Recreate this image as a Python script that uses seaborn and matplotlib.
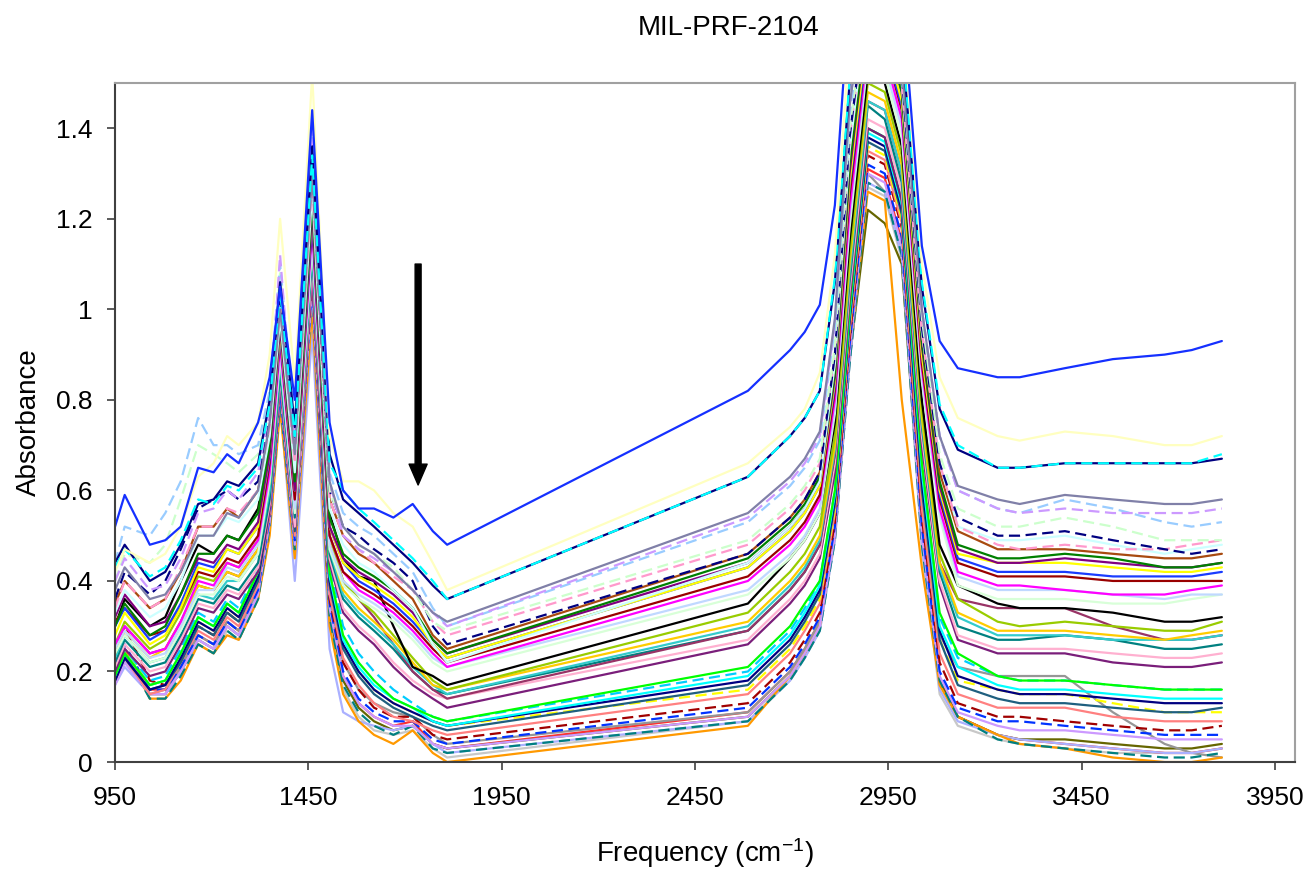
import matplotlib
matplotlib.use("Agg")
import matplotlib.pyplot as plt
import numpy as np
import pandas as pd
import seaborn as sns

# frequency grid (cm-1) shared by all spectra
freq = [950, 975, 1040, 1080, 1120, 1165, 1205, 1240, 1270, 1320, 1350, 1377, 1415, 1460,
        1505, 1540, 1580, 1620, 1670, 1720, 1772, 1809,
        2587, 2696, 2734, 2773, 2812, 2850, 2897, 2941, 2985, 3037, 3083, 3130, 3233, 3290,
        3407, 3531, 3665, 3735, 3813]

# absorbance x 100
blue = [52,59,48,49,52,65,64,68,66,75,85,105,80,144,75,60,56,56,54,57,51,48, 82,91,95,101,123,170,190,185,170,114,93,87,85,85,87,89,90,91,93]
lt_yellow = [42,47,44,46,52,63,66,72,70,75,90,120,84,152,72,62,62,60,55,52,44,38, 66,74,78,86,112,160,185,180,168,110,85,76,72,71,73,72,70,70,72]
navy = [44,48,40,42,48,57,58,62,61,66,80,106,74,136,68,58,55,52,48,44,39,36, 63,72,76,82,106,150,175,172,160,105,78,69,65,65,66,66,66,66,67]
cyan_d = [43,47,41,43,49,58,57,61,60,65,79,104,72,134,66,60,56,53,49,45,40,36, 63,72,76,82,107,151,176,173,161,106,79,70,65,65,66,66,66,66,68]
slate = [38,43,36,37,42,50,50,55,54,60,75,100,68,130,62,52,48,46,42,38,33,31, 55,63,67,73,98,145,175,170,155,100,72,61,58,57,59,58,57,57,58]
lavender_d = [40,45,38,39,45,55,56,60,58,64,78,112,70,140,62,50,47,45,42,38,33,30, 54,62,66,72,97,145,175,172,158,100,72,60,56,55,56,55,55,55,56]
ltblue_d = [44,52,50,55,62,76,70,70,68,70,82,110,74,142,64,55,52,50,46,42,34,30, 53,61,65,71,96,143,172,170,156,100,72,60,56,55,58,56,53,52,53]
ltgreen_d = [40,46,44,48,58,70,68,66,64,68,80,108,72,138,60,52,48,46,43,38,31,29, 49,57,61,67,92,140,170,168,154,98,68,56,52,52,54,52,49,49,49]
navy_d = [36,42,37,40,47,56,58,60,58,62,76,102,70,132,60,52,50,47,44,40,30,26, 46,54,58,64,90,138,170,168,152,96,66,54,50,50,51,49,47,46,47]
pink_d = [34,40,34,36,43,52,52,56,55,60,74,100,66,128,58,50,47,44,41,38,31,28, 48,56,60,66,90,138,168,166,150,95,66,52,48,47,48,47,47,48,49]
lt_cyan = [33,38,32,34,40,50,50,54,53,58,72,98,64,126,56,48,44,42,38,34,26,22, 44,52,56,62,88,135,168,165,150,95,66,52,49,49,50,48,46,47,48]
brown = [35,40,34,36,42,52,52,56,54,60,74,100,66,128,58,50,46,44,40,36,28,25, 46,54,58,64,88,135,168,165,150,95,64,51,47,47,47,46,45,45,46]
green = [30,35,28,30,37,46,46,50,49,55,70,98,62,124,54,46,43,41,38,34,27,24, 45,53,57,63,86,132,165,162,148,93,62,48,45,45,46,45,43,43,44]
purple = [32,37,30,31,37,45,44,48,47,53,68,96,60,122,52,45,42,40,37,33,27,24, 44,52,56,62,85,130,165,162,148,92,61,47,44,44,45,44,43,43,44]
yellow = [28,33,26,28,34,43,42,47,46,52,68,95,60,122,52,44,41,39,36,32,26,23, 43,51,55,61,84,128,162,160,146,90,60,46,44,44,44,43,42,42,43]
royal = [30,34,27,29,35,44,43,47,46,52,67,94,60,120,52,44,40,38,35,31,26,23, 43,51,55,61,83,127,160,158,145,90,59,45,42,42,42,41,41,41,42]
dark_red = [31,34,28,29,34,42,41,45,44,50,66,94,58,120,50,42,39,37,34,30,25,22, 41,49,53,59,82,125,160,158,144,88,58,44,41,41,41,40,40,40,40]
magenta = [26,30,24,25,31,40,39,44,43,49,64,92,58,118,50,42,38,36,33,29,24,21, 40,48,52,58,80,122,158,156,142,87,56,42,39,39,38,37,37,38,39]
pale_blue = [25,29,23,24,30,38,38,43,42,48,63,90,56,116,48,40,37,35,32,28,23,21, 38,46,50,56,78,120,156,154,140,85,55,41,38,38,38,37,36,37,37]
lt_green = [24,28,22,23,29,37,37,41,40,46,62,90,55,115,47,39,36,34,31,27,22,20, 37,45,49,55,77,118,155,152,138,84,54,39,36,36,36,35,35,36,37]
black = [30,36,30,32,40,48,46,50,49,56,70,97,62,125,55,45,41,40,30,21,19,17, 35,45,49,55,75,115,152,150,136,80,48,39,35,34,34,33,31,31,32]
y_green = [26,31,25,27,33,41,40,44,43,49,64,92,58,118,50,40,36,33,28,23,18,16, 33,42,46,52,72,112,150,148,134,78,46,36,31,30,31,30,29,29,31]
gold = [24,29,23,25,31,39,38,42,41,47,62,90,56,116,48,38,34,31,27,22,17,16, 31,40,44,50,70,110,148,146,132,76,44,33,29,29,29,28,27,28,29]
aqua = [23,28,22,23,29,37,36,40,40,46,60,88,55,114,47,37,33,30,26,21,17,15, 30,39,43,49,69,108,146,144,130,75,43,32,28,28,28,27,27,27,28]
plum = [25,30,24,25,31,39,38,42,41,47,62,90,56,116,48,40,36,32,26,20,16,14, 29,38,42,48,68,108,146,144,130,78,44,36,34,34,34,30,27,27,28]
teal = [22,27,21,22,28,36,35,39,38,44,58,86,54,112,46,36,32,29,25,20,16,15, 29,38,42,48,68,106,145,142,128,74,42,30,27,27,28,27,25,25,26]
pink = [21,26,20,21,27,35,34,38,37,43,57,85,52,110,45,34,30,27,22,18,15,14, 27,36,40,46,66,104,142,140,126,72,40,28,25,25,25,24,23,23,24]
purple2 = [20,25,19,20,26,34,33,37,36,42,56,84,52,108,44,33,29,26,21,17,14,12, 26,35,39,45,64,102,140,138,124,70,39,27,24,24,24,22,21,21,22]
lime = [19,24,17,18,24,32,30,35,33,42,58,88,54,115,42,28,22,18,14,12,10,9, 21,30,35,40,60,100,140,138,124,66,33,24,19,18,18,17,16,16,16]
sky_d = [20,25,18,19,25,33,31,36,34,43,60,90,56,118,44,30,24,20,16,13,10,9, 20,29,34,40,60,100,140,138,124,66,32,23,19,18,18,17,16,16,16]
cyan = [19,24,17,18,24,32,30,35,33,42,58,87,53,113,41,27,21,17,14,12,9,8, 19,28,33,39,59,99,139,137,123,64,30,21,17,16,16,15,14,14,14]
navy2 = [18,23,16,17,23,31,29,34,32,41,57,86,52,112,40,26,20,16,13,11,9,8, 18,27,32,38,58,98,138,136,122,62,29,19,16,15,15,14,13,13,13]
dk_teal = [18,23,16,17,22,30,28,33,31,40,56,85,51,110,39,25,19,15,12,10,8,7, 17,26,31,37,57,97,137,135,121,60,27,17,14,13,13,12,11,11,12]
yellow_d = [20,25,17,18,24,31,29,34,32,41,57,86,52,112,40,26,20,16,13,11,9,8, 16,25,30,36,56,96,136,134,120,60,27,18,16,15,15,13,11,11,11]
salmon = [18,23,15,16,22,29,27,32,30,39,55,84,50,108,37,23,17,13,10,9,7,6, 15,24,29,35,55,95,135,133,119,56,24,15,12,12,12,10,9,9,9]
red_d = [24,30,18,17,23,30,28,33,31,40,55,84,50,108,36,22,16,12,10,10,6,5, 13,22,27,33,53,93,134,132,118,54,22,13,10,10,9,8,7,7,8]
blue_d = [21,26,16,16,21,28,26,31,29,38,54,82,49,106,35,20,14,11,9,9,5,4, 12,21,26,32,52,92,132,130,116,52,20,12,9,9,8,7,6,6,6]
lilac = [17,22,15,15,20,27,25,30,28,37,53,82,48,105,34,19,13,10,8,8,4,3, 10,19,24,30,50,90,130,128,114,50,19,11,8,7,7,6,5,5,5]
teal_d = [19,24,14,14,19,26,24,29,27,36,52,80,47,104,32,17,11,8,6,8,3,2, 9,18,23,29,49,88,128,126,112,48,18,10,5,4,3,2,1,1,2]
orange = [20,25,14,14,18,26,24,28,27,36,50,78,45,100,30,15,9,6,4,7,2,0, 8,19,24,30,50,90,126,124,80,43,17,10,6,4,3,1,0,0,1]
periwinkle = [17,21,15,15,20,27,25,30,28,37,52,80,40,95,25,11,9,8,7,8,4,2, 9,18,23,29,49,88,128,126,112,48,16,9,6,5,4,3,2,2,3]
gray = [18,23,15,16,21,28,26,31,29,38,54,83,50,107,36,22,16,13,11,10,6,4, 11,20,25,31,51,90,130,126,112,52,28,21,19,19,19,11,4,2,1]
olive = [19,24,15,15,20,27,25,30,28,37,53,81,48,104,33,18,12,9,7,8,4,3, 10,19,24,30,50,89,122,119,110,50,18,10,6,5,5,4,3,3,4]
red = [19,24,16,16,21,28,26,31,29,38,54,82,49,106,34,19,13,10,8,9,4,3, 11,20,25,31,51,91,131,129,115,51,18,10,6,5,4,3,2,2,3]
lt_gray = [18,22,15,15,20,26,24,29,27,36,51,79,46,102,31,16,10,7,6,7,3,1, 9,18,23,29,49,88,127,125,111,47,15,8,5,4,3,2,2,2,3]

# (name, values, colour, dashed)
series = [
    ("lt_gray", lt_gray, "#c8c8c8", False),
    ("red", red, "#ff3030", False),
    ("olive", olive, "#666600", False),
    ("gray", gray, "#969696", False),
    ("periwinkle", periwinkle, "#aab0ff", False),
    ("orange", orange, "#ff9900", False),
    ("teal_d", teal_d, "#008080", True),
    ("lilac", lilac, "#cc99ff", False),
    ("blue_d", blue_d, "#0033ff", True),
    ("red_d", red_d, "#a00000", True),
    ("salmon", salmon, "#ff8080", False),
    ("yellow_d", yellow_d, "#ffff00", True),
    ("dk_teal", dk_teal, "#1f5f7f", False),
    ("navy2", navy2, "#000080", False),
    ("cyan", cyan, "#00ffff", False),
    ("sky_d", sky_d, "#00ccff", True),
    ("lime", lime, "#00ff00", False),
    ("purple2", purple2, "#7a1e7a", False),
    ("pink", pink, "#ffb0d0", False),
    ("teal", teal, "#008080", False),
    ("plum", plum, "#993366", False),
    ("aqua", aqua, "#33cccc", False),
    ("gold", gold, "#ffcc00", False),
    ("y_green", y_green, "#99cc00", False),
    ("black", black, "#000000", False),
    ("lt_green", lt_green, "#d8ffd8", False),
    ("pale_blue", pale_blue, "#c0d8ff", False),
    ("magenta", magenta, "#ff00ff", False),
    ("dark_red", dark_red, "#990000", False),
    ("royal", royal, "#1a3cff", False),
    ("yellow", yellow, "#ffff00", False),
    ("purple", purple, "#800080", False),
    ("green", green, "#008000", False),
    ("brown", brown, "#a84a10", False),
    ("lt_cyan", lt_cyan, "#ccffff", False),
    ("pink_d", pink_d, "#ff99cc", True),
    ("navy_d", navy_d, "#000080", True),
    ("ltgreen_d", ltgreen_d, "#ccffcc", True),
    ("ltblue_d", ltblue_d, "#99ccff", True),
    ("lavender_d", lavender_d, "#cc99ff", True),
    ("slate", slate, "#8080a8", False),
    ("navy", navy, "#000080", False),
    ("cyan_d", cyan_d, "#00ffff", True),
    ("lt_yellow", lt_yellow, "#ffffc0", False),
    ("blue", blue, "#1530ff", False),
]

rows = []
for name, vals, _, _ in series:
    for f, v in zip(freq, vals):
        rows.append({"sample": name, "freq": f, "abs": v / 100})
df = pd.DataFrame(rows)

palette = {name: col for name, _, col, _ in series}
dashes = {name: ((5, 2.5) if d else "") for name, _, _, d in series}
order = [name for name, _, _, _ in series]

sns.set_style("ticks")
plt.rcParams["font.family"] = ["Liberation Sans", "DejaVu Sans"]
plt.rcParams["mathtext.default"] = "regular"
plt.rcParams["text.color"] = "black"
plt.rcParams["axes.labelcolor"] = "black"

fig = plt.figure(figsize=(13.1, 8.69), dpi=100)
ax = fig.add_axes([0.0878, 0.1231, 0.9007, 0.7814])

sns.lineplot(data=df, x="freq", y="abs", hue="sample", style="sample",
             hue_order=order, style_order=order, palette=palette, dashes=dashes,
             estimator=None, sort=False, linewidth=1.6, legend=False, ax=ax)

# arrow pointing at the 1730 cm-1 region
ax.annotate("", xy=(1734, 0.612), xytext=(1734, 1.1),
            arrowprops=dict(facecolor="black", edgecolor="black", width=4.3,
                            headwidth=13, headlength=15, shrink=0))

ax.set_xlim(950, 4002)
ax.set_ylim(0, 1.5)
ax.set_xticks([950, 1450, 1950, 2450, 2950, 3450, 3950])
ax.set_yticks([0, 0.2, 0.4, 0.6, 0.8, 1.0, 1.2, 1.4])
ax.set_yticklabels([f"{v:g}" for v in [0, 0.2, 0.4, 0.6, 0.8, 1.0, 1.2, 1.4]])
ax.tick_params(direction="out", length=6, width=1.2, labelsize=19,
               color="#404040", labelcolor="black")
ax.tick_params(axis="x", pad=11)
ax.tick_params(axis="y", pad=10)

for side in ["left", "bottom"]:
    ax.spines[side].set_color("#404040")
    ax.spines[side].set_linewidth(1.5)
for side in ["top", "right"]:
    ax.spines[side].set_visible(True)
    ax.spines[side].set_color("#a0a0a0")
    ax.spines[side].set_linewidth(1.5)

ax.set_xlabel("Frequency (cm$^{-1}$)", fontsize=20, labelpad=19)
ax.set_ylabel("Absorbance", fontsize=20, labelpad=10)
fig.text(0.556, 0.968, "MIL-PRF-2104", ha="center", va="center", fontsize=20)

fig.savefig("out.png", dpi=100)
